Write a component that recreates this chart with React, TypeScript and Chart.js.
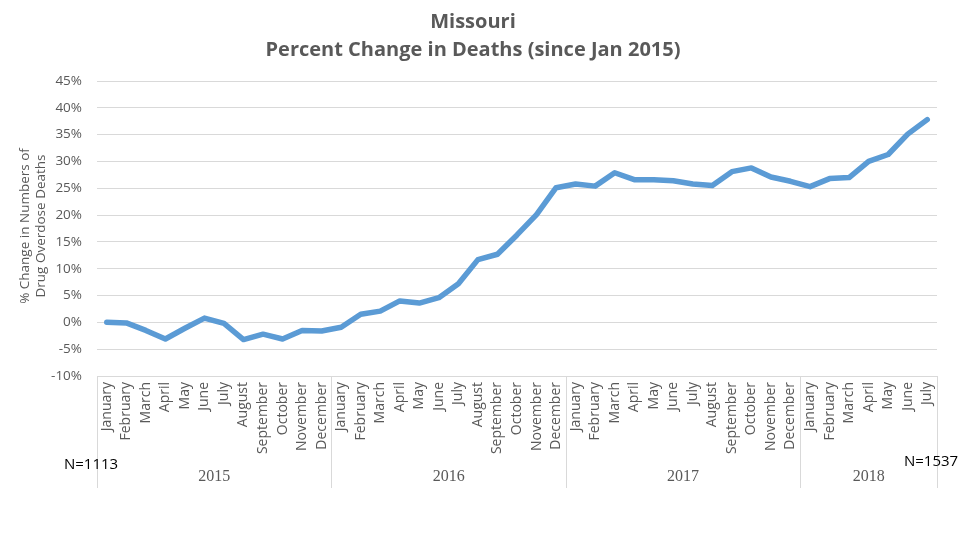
import React, { useEffect, useRef } from "react";
import { Chart, registerables } from "chart.js";

Chart.register(...registerables);

const yearLabels = ["2015", "2016", "2017", "2018"];
const yearMonthCounts = [12, 12, 12, 7];
const monthNames = [
  "January", "February", "March", "April", "May", "June",
  "July", "August", "September", "October", "November", "December",
];
const percentChange = [
  0.0, -0.1, -1.5, -3.1, -1.1, 0.8, -0.2, -3.2, -2.2, -3.1, -1.5, -1.6,
  -0.9, 1.5, 2.1, 4.0, 3.6, 4.6, 7.2, 11.7, 12.7, 16.3, 20.1, 25.1,
  25.8, 25.4, 27.9, 26.6, 26.6, 26.4, 25.8, 25.5, 28.1, 28.8, 27.1, 26.3,
  25.3, 26.8, 27.0, 30.0, 31.3, 35.1, 37.8,
];
const yTicks = { min: -10, max: 45, step: 5 };
const titleLines = ["Missouri", "Percent Change in Deaths (since Jan 2015)"];
const yTitleLines = ["% Change in Numbers of", "Drug Overdose Deaths"];
const startNote = "N=1113";
const endNote = "N=1537";

const categories: string[] = [];
yearMonthCounts.forEach((count) => {
  for (let m = 0; m < count; m++) categories.push(monthNames[m]);
});

const SANS = "'Open Sans', 'Noto Sans', sans-serif";
const GREY = "#595959";
const GRID = "#d9d9d9";

const decorPlugin = {
  id: "decor",
  afterDraw(chart: any) {
    const ctx = chart.ctx;
    const x = chart.scales.x;
    const area = chart.chartArea;
    const half = (x.getPixelForValue(1) - x.getPixelForValue(0)) / 2;
    const bottom = 488;

    ctx.save();
    // group dividers and year labels
    ctx.strokeStyle = GRID;
    ctx.lineWidth = 1;
    let idx = 0;
    const edges: number[] = [x.getPixelForValue(0) - half];
    yearMonthCounts.forEach((count) => {
      idx += count;
      edges.push(x.getPixelForValue(idx - 1) + half);
    });
    edges.forEach((ex) => {
      const px = Math.round(ex) + 0.5;
      ctx.beginPath();
      ctx.moveTo(px, area.bottom);
      ctx.lineTo(px, bottom);
      ctx.stroke();
    });
    ctx.fillStyle = GREY;
    ctx.font = "16px 'Liberation Serif', 'DejaVu Serif', serif";
    ctx.textAlign = "center";
    ctx.textBaseline = "middle";
    yearLabels.forEach((y, i) => {
      ctx.fillText(y, (edges[i] + edges[i + 1]) / 2, 477);
    });

    // title
    ctx.fillStyle = GREY;
    ctx.font = `700 20px ${SANS}`;
    ctx.textAlign = "center";
    ctx.textBaseline = "middle";
    ctx.fillText(titleLines[0], 473, 22);
    ctx.fillText(titleLines[1], 473, 50);

    // y-axis title
    ctx.font = `13.5px ${SANS}`;
    ctx.save();
    ctx.translate(33, 226);
    ctx.rotate(-Math.PI / 2);
    ctx.fillText(yTitleLines[0], 0, -8);
    ctx.fillText(yTitleLines[1], 0, 8);
    ctx.restore();

    // notes
    ctx.fillStyle = "#000000";
    ctx.font = `15px ${SANS}`;
    ctx.textAlign = "left";
    ctx.fillText(startNote, 64, 465);
    ctx.fillText(endNote, 904, 462);
    ctx.restore();
  },
};

export default function App() {
  const ref = useRef<HTMLCanvasElement | null>(null);

  useEffect(() => {
    if (!ref.current) return;
    const chart = new Chart(ref.current, {
      type: "line",
      data: {
        labels: categories,
        datasets: [
          {
            data: percentChange,
            borderColor: "#5b9bd5",
            borderWidth: 5.5,
            pointRadius: 0,
            tension: 0,
            fill: false,
            borderJoinStyle: "round",
            borderCapStyle: "round",
          },
        ],
      },
      options: {
        animation: false,
        responsive: false,
        maintainAspectRatio: false,
        layout: { padding: { top: 81, right: 23, left: 0, bottom: 0 } },
        plugins: {
          legend: { display: false },
          title: { display: false },
          tooltip: { enabled: false },
        },
        scales: {
          x: {
            type: "category",
            offset: true,
            grid: { display: false, drawTicks: false },
            border: { display: false },
            ticks: {
              autoSkip: false,
              maxRotation: 90,
              minRotation: 90,
              padding: 6,
              color: GREY,
              font: { family: SANS, size: 14 },
            },
            afterFit(scale: any) {
              scale.height = 164;
            },
          },
          y: {
            min: yTicks.min,
            max: yTicks.max,
            grid: { color: GRID, drawTicks: false, lineWidth: 1 },
            border: { display: false },
            ticks: {
              stepSize: yTicks.step,
              padding: 15,
              color: GREY,
              font: { family: SANS, size: 13.5 },
              callback: (v: any) => `${v}%`,
            },
            afterFit(scale: any) {
              scale.width = 97;
            },
          },
        },
      },
      plugins: [decorPlugin],
    } as any);
    return () => chart.destroy();
  }, []);

  return (
    <div style={{ position: "absolute", left: 0, top: 0, width: 960, height: 540, background: "#fff" }}>
      <canvas ref={ref} width={960} height={540} style={{ width: 960, height: 540 }} />
    </div>
  );
}
